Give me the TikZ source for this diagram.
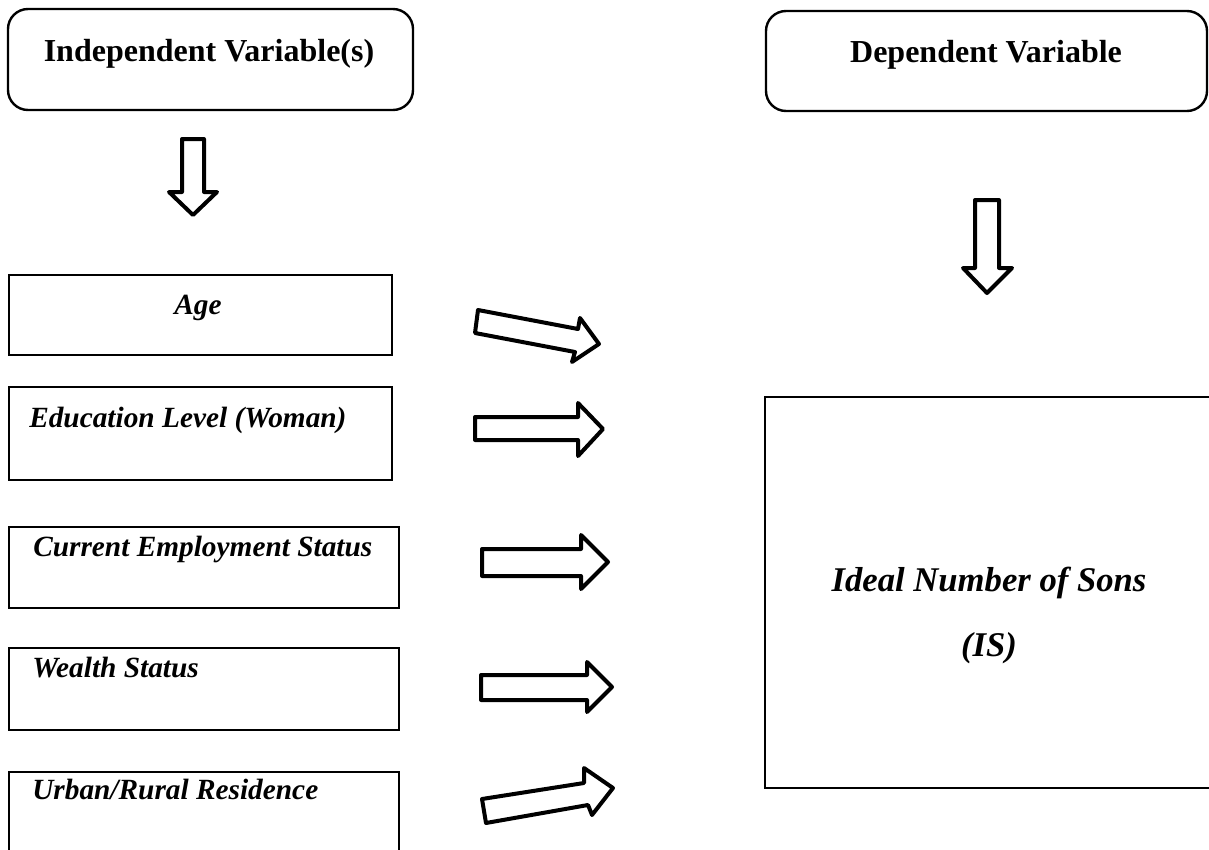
\documentclass[tikz,border=0pt]{standalone}
\usepackage{fontspec}
\setmainfont{Liberation Serif}
\usetikzlibrary{fit}
\begin{document}
\begin{tikzpicture}[x=0.75pt,y=-0.75pt,
  box/.style={draw, line width=1.8pt, inner sep=0pt},
  rbox/.style={box, rounded corners=15pt},
  blk/.style={draw, line width=3pt, line join=round, fill=white},
  headtxt/.style={font=\fontsize{24}{28}\selectfont\bfseries, inner sep=0pt, anchor=base},
  labtxt/.style={font=\fontsize{22}{26}\selectfont\bfseries\itshape, inner sep=0pt, anchor=base west},
  istxt/.style={font=\fontsize{26}{30}\selectfont\bfseries\itshape, inner sep=0pt, anchor=base}]
\useasboundingbox (0,0) rectangle (1209,849);

% header boxes
\node[rbox, fit={(8,9) (413,110)}] (ind) {};
\node[headtxt] (indt) at (209,61) {Independent Variable(s)};
\node[rbox, fit={(766,11) (1207,111)}] (dep) {};
\node[headtxt] (dept) at (986,63) {Dependent Variable};

% down arrows
\draw[blk] (182,139) -- (204,139) -- (204,192) -- (217,192) -- (193,215) -- (169,192) -- (182,192) -- cycle;
\draw[blk] (975,200) -- (999,200) -- (999,268) -- (1012,268) -- (987,293) -- (963,268) -- (975,268) -- cycle;

% independent variable boxes
\node[box, fit={(9,275) (392,355)}] (age) {};
\node[labtxt, anchor=base] (aget) at (198,314) {Age};
\node[box, fit={(9,387) (392,480)}] (edu) {};
\node[labtxt] (edut) at (29,427) {Education Level (Woman)};
\node[box, fit={(9,527) (399,608)}] (ces) {};
\node[labtxt] (cest) at (33,556) {Current Employment Status};
\node[box, fit={(9,648) (399,730)}] (wea) {};
\node[labtxt] (weat) at (32,677) {Wealth Status};
\node[box, fit={(9,772) (399,858)}] (urb) {};
\node[labtxt] (urbt) at (32,799) {Urban/Rural Residence};

% dependent box
\node[box, fit={(765,397) (1216,788)}] (is) {};
\node[istxt] (ist1) at (989,591) {Ideal Number of Sons};
\node[istxt] (ist2) at (989,656) {(IS)};

% block arrows to the right
\draw[blk] (478,310) -- (578,329) -- (580,318) -- (599,344) -- (572,362) -- (575,352) -- (475,333) -- cycle;
\draw[blk] (475,417) -- (578,417) -- (578,403) -- (603,429) -- (578,456) -- (578,440) -- (475,440) -- cycle;
\draw[blk] (482,549) -- (581,549) -- (581,535) -- (608,562) -- (581,589) -- (581,576) -- (482,576) -- cycle;
\draw[blk] (481,675) -- (587,675) -- (587,662) -- (612,687) -- (587,712) -- (587,700) -- (481,700) -- cycle;
\draw[blk] (482,799) -- (584,783) -- (584,768) -- (613,788) -- (592,815) -- (588,805) -- (486,823) -- cycle;
\end{tikzpicture}
\end{document}
